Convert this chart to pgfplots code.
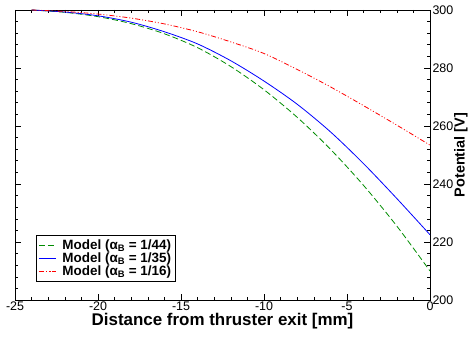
\documentclass[border=0pt]{standalone}
\usepackage{pgfplots}
\pgfplotsset{compat=1.18}
\usepackage{fontspec}
\setmainfont{Liberation Sans}
\definecolor{mgreen}{RGB}{0,140,0}
\begin{document}
\begin{tikzpicture}
\begin{axis}[
  scale only axis,
  width=415bp, height=290bp,
  xmin=-25, xmax=0, ymin=200, ymax=300,
  xtick={-25,-20,...,0}, ytick={200,220,...,300},
  minor x tick num=4, minor y tick num=4,
  tick align=inside,
  xtick pos=both, ytick pos=both,
  yticklabel pos=right,
  ylabel near ticks,
  major tick length=6bp, minor tick length=3bp,
  tick style={black, line width=0.6pt},
  axis line style={line width=0.9pt},
  /pgf/number format/assume math mode=true,
  ticklabel style={font=\fontsize{12.5}{14}\selectfont},
  xticklabel style={yshift=2bp},
  yticklabel style={xshift=-1bp},
  xlabel={\textbf{Distance from thruster exit [mm]}},
  ylabel={\textbf{Potential [V]}},
  xlabel style={font=\fontsize{17}{19}\selectfont, yshift=4bp},
  ylabel style={font=\fontsize{14.5}{16}\selectfont, yshift=6bp},
  legend style={at={(rel axis cs:0.05,0.062)}, anchor=south west,
    font=\fontsize{13.5}{15}\selectfont\bfseries, draw=black, line width=0.6pt,
    row sep=-2bp, column sep=4bp, inner sep=2.5bp},
  legend cell align=left,
  legend image post style={line width=0.9pt},
]
\addplot[draw=mgreen, smooth, line width=0.8pt, dash pattern=on 6bp off 3bp] coordinates {
(-24,300) (-22,299.2) (-20,297.7) (-18,295.3) (-16,291.8) (-14,287) (-12,280.5)
(-10,272.5) (-8,263) (-6,252) (-4,239.5) (-2,225.5) (0,210)};
\addlegendentry{Model (α\textsubscript{B} = 1/44)}
\addplot[draw=blue, smooth, line width=0.8pt] coordinates {
(-24,300) (-22,299.3) (-20,298.0) (-18,295.8) (-16,292.5) (-14,288.3) (-12,282.5)
(-10,275.5) (-8,267.5) (-6,258) (-4,247) (-2,235) (0,222.5)};
\addlegendentry{Model (α\textsubscript{B} = 1/35)}
\addplot[draw=red, smooth, line width=0.8pt, dash pattern=on 5bp off 2bp on 1bp off 2bp on 1bp off 2bp] coordinates {
(-24,300) (-22,299.5) (-20,298.6) (-18,297.2) (-16,295.2) (-14,292.5) (-12,289)
(-10,285) (-8,279.5) (-6,273.5) (-4,267) (-2,260.3) (0,253.4)};
\addlegendentry{Model (α\textsubscript{B} = 1/16)}
\coordinate (sw) at (rel axis cs:0,0);
\coordinate (ne) at (rel axis cs:1,1);
\end{axis}
\path ([shift={(-15bp,-39bp)}]sw) rectangle ([shift={(44bp,10bp)}]ne);
\end{tikzpicture}
\end{document}
